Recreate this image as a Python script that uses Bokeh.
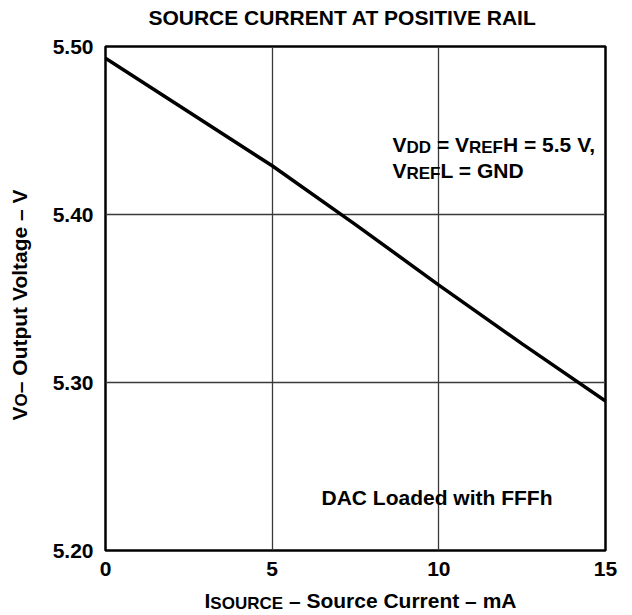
import math
from bokeh.plotting import figure
from bokeh.models import Range1d, FixedTicker, Label
from bokeh.layouts import column, row
from bokeh.embed import file_html
from bokeh.resources import INLINE

# ---- data ----
current_ma = [0, 2.5, 5, 7.5, 10, 12.5, 15]
vout = [5.493, 5.461, 5.429, 5.394, 5.358, 5.323, 5.289]

x_ticks = [0, 5, 10, 15]
x_tick_labels = ["0", "5", "10", "15"]
y_ticks = [5.20, 5.30, 5.40, 5.50]
y_tick_labels = ["5.20", "5.30", "5.40", "5.50"]

title_text = "SOURCE CURRENT AT POSITIVE RAIL"
xlabel_parts = [("I", False), ("SOURCE", True), (" \u2013 Source Current \u2013 mA", False)]
ylabel_parts = [("V", False), ("O", True), ("\u2013 Output Voltage \u2013 V", False)]
note1_parts = [("V", False), ("DD", True), (" = V", False), ("REF", True), ("H = 5.5 V,", False)]
note2_parts = [("V", False), ("REF", True), ("L = GND", False)]
note3_text = "DAC Loaded with FFFh"

FONT = "Liberation Sans"
FS = 21
SUB_FS = 17

# Arial / Liberation Sans Bold advance widths (per 1000 em)
W = {" ": 278, "=": 584, ".": 278, ",": 278, "5": 556, "\u2013": 556,
     "A": 722, "C": 722, "D": 722, "E": 667, "F": 611, "G": 778, "H": 722, "I": 278,
     "L": 611, "N": 722, "O": 778, "P": 667, "R": 722, "S": 667, "T": 611, "U": 722,
     "V": 667, "a": 556, "c": 556, "d": 611, "e": 556, "g": 611, "h": 611, "i": 278,
     "l": 278, "m": 889, "n": 611, "o": 611, "p": 611, "r": 389, "t": 333, "u": 611,
     "w": 778}


def text_width(s, size):
    return sum(W.get(ch, 600) for ch in s) * size / 1000.0


def mk_label(fig, x, y, txt, size, xo=0, yo=0, angle=0.0, align="left"):
    fig.add_layout(Label(x=x, y=y, x_offset=xo, y_offset=yo, text=txt, angle=angle,
                         text_font=FONT, text_font_style="bold",
                         text_font_size=f"{size}px", text_color="black",
                         text_align=align, text_baseline="alphabetic"))


def add_rich(fig, parts, x, y, drop, angle=0.0):
    cum = 0.0
    for txt, sub in parts:
        fs = SUB_FS if sub else FS
        d = drop if sub else 0
        lead = len(txt) - len(txt.lstrip(" "))
        pos = cum + text_width(" " * lead, fs)
        if angle == 0:
            mk_label(fig, x, y, txt.strip(" "), fs, xo=pos, yo=-d)
        else:
            mk_label(fig, x, y, txt.strip(" "), fs, xo=d, yo=pos, angle=angle)
        cum += text_width(txt, fs)


def blank(w, h):
    f = figure(width=w, height=h, output_backend="svg", toolbar_location=None,
               x_range=Range1d(0, w), y_range=Range1d(0, h),
               x_axis_location=None, y_axis_location=None,
               min_border=0, min_border_left=0, min_border_right=0,
               min_border_top=0, min_border_bottom=0)
    f.outline_line_color = None
    f.grid.visible = False
    f.background_fill_color = "white"
    f.border_fill_color = "white"
    return f


# ---- main chart ----
p = figure(width=585, height=558, output_backend="svg", toolbar_location=None,
           x_range=Range1d(0, 15), y_range=Range1d(5.20, 5.50),
           min_border_left=65, min_border_right=20, min_border_top=16, min_border_bottom=38)
p.background_fill_color = "white"
p.border_fill_color = "white"
p.outline_line_color = "black"
p.outline_line_width = 2.5

p.xaxis.ticker = FixedTicker(ticks=x_ticks)
p.yaxis.ticker = FixedTicker(ticks=y_ticks)
p.xaxis.major_label_overrides = dict(zip(x_ticks, x_tick_labels))
p.yaxis.major_label_overrides = dict(zip(y_ticks, y_tick_labels))
for ax in (p.xaxis, p.yaxis):
    ax.axis_line_color = None
    ax.major_tick_line_color = None
    ax.minor_tick_line_color = None
    ax.major_tick_in = 0
    ax.major_tick_out = 0
    ax.major_label_text_font = FONT
    ax.major_label_text_font_style = "bold"
    ax.major_label_text_font_size = f"{FS}px"
    ax.major_label_text_color = "black"
p.xaxis.major_label_standoff = 11
p.yaxis.major_label_standoff = 12

p.xgrid.ticker = FixedTicker(ticks=x_ticks)
p.ygrid.ticker = FixedTicker(ticks=y_ticks)
p.grid.grid_line_color = "#3a3a3a"
p.grid.grid_line_width = 1.3

p.line(current_ma, vout, line_color="black", line_width=3.5)

add_rich(p, note1_parts, 8.61, 5.4417, 3)
add_rich(p, note2_parts, 8.61, 5.4262, 3)
mk_label(p, 13.41, 5.2313, note3_text, FS, align="right")

# ---- surrounding texts ----
top = blank(625, 30)
mk_label(top, 342, 13, title_text, FS, align="center")

left = blank(40, 558)
add_rich(left, ylabel_parts, 19, 144, 2, angle=math.pi / 2)

bottom = blank(625, 24)
add_rich(bottom, xlabel_parts, 204, 12, 3)

layout = column(top, row(left, p), bottom)
open("out.html", "w").write(file_html(layout, INLINE))
